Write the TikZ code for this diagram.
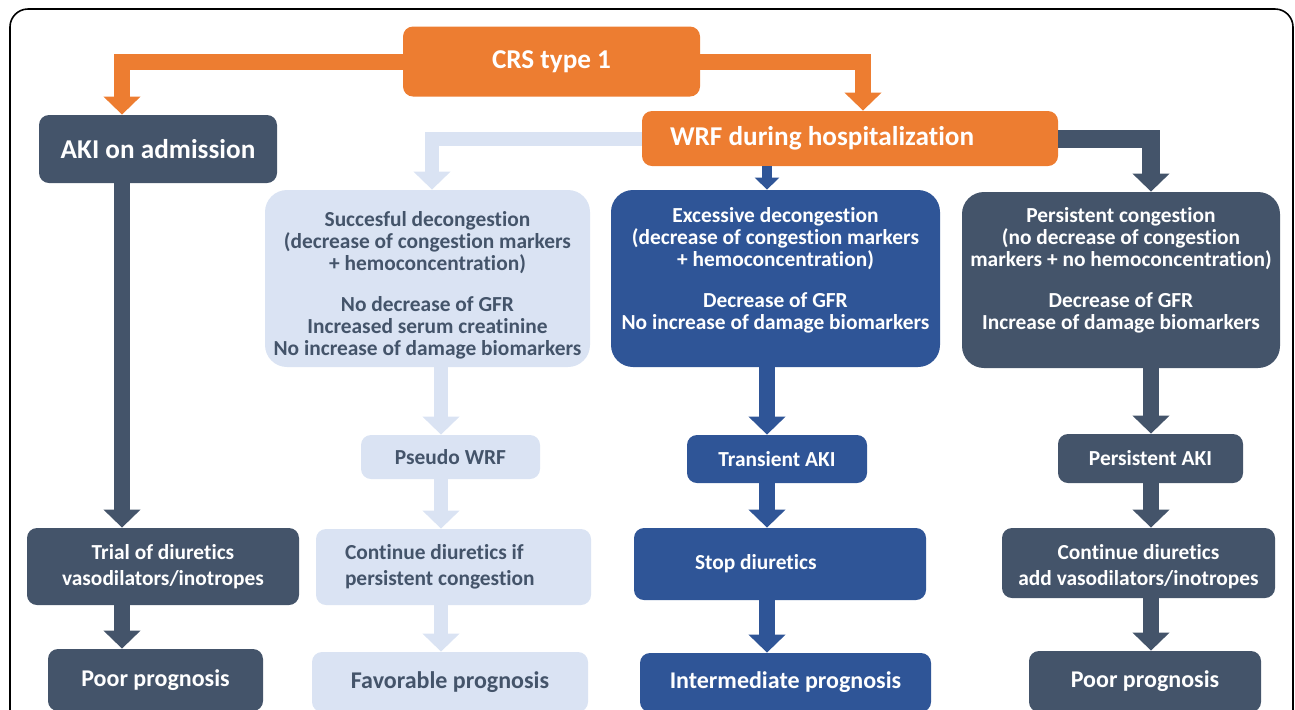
\documentclass[tikz,border=0pt]{standalone}
\usepackage{fontspec}
\setmainfont{Carlito}[Ligatures=NoCommon]
\usetikzlibrary{arrows.meta}
\definecolor{crsorange}{HTML}{ED7D31}
\definecolor{slate}{HTML}{44546A}
\definecolor{royal}{HTML}{2F5597}
\definecolor{pale}{HTML}{DAE3F3}
\tikzstyle{stage} = [rounded corners=5pt, inner sep=0pt, align=center, font=\bfseries\fontsize{10.7}{11}\selectfont]
\tikzstyle{big} = [rounded corners=11pt]
\tikzstyle{headline} = [font=\bfseries\fontsize{13.6}{16}\selectfont]
\tikzstyle{outcome} = [font=\bfseries\fontsize{12}{14}\selectfont]
\tikzstyle{twoline} = [font=\bfseries\fontsize{10.7}{13}\selectfont]
\tikzstyle{orangebox} = [stage, fill=crsorange, text=white]
\tikzstyle{slatebox} = [stage, fill=slate, text=white]
\tikzstyle{royalbox} = [stage, fill=royal, text=white]
\tikzstyle{palebox} = [stage, fill=pale, text=slate]
\tikzstyle{flow} = [line width=8pt, -{Triangle[length=9pt, width=18pt]}]

\begin{document}
\begin{tikzpicture}[x=0.5pt, y=-0.5pt]

\clip (0,0) rectangle (1295,709);
\draw[line width=0.8pt, rounded corners=9pt] (10,9) rectangle (1293,760);

% columns of the arrows
\coordinate (colA) at (122,0);
\coordinate (colB) at (863,0);
\coordinate (colC) at (432,0);
\coordinate (colD) at (767,0);
\coordinate (colE) at (1151,0);
\coordinate (colF) at (441,0);

\node[orangebox, headline, minimum width=148.5pt, minimum height=35pt] (crs) at (551.5,61.5) {CRS type 1};
\node[slatebox, headline, minimum width=119pt, minimum height=34pt] (aki) at (158,149) {AKI on admission};
\node[orangebox, headline, minimum width=208pt, minimum height=27.5pt, text width=180pt, inner xsep=14pt, align=flush left] (wrf) at (850,138.5) {WRF during hospitalization};

\node[palebox, big, minimum width=162.5pt, minimum height=88.5pt] (succ) at (427.5,278.5) {\rule{0pt}{14pt}Succesful decongestion\\(decrease of congestion markers\\+ hemoconcentration)\\[9.5pt]No decrease of GFR\\Increased serum creatinine\\No increase of damage biomarkers};
\node[royalbox, big, minimum width=164.5pt, minimum height=88.5pt] (exc) at (775.5,278.5) {Excessive decongestion\\(decrease of congestion markers\\+ hemoconcentration)\\[9.5pt]Decrease of GFR\\No increase of damage biomarkers\rule[-10.5pt]{0pt}{10.5pt}};
\node[slatebox, big, minimum width=159pt, minimum height=88pt] (pcong) at (1121,280) {Persistent congestion\\(no decrease of congestion\\markers + no hemoconcentration)\\[9.5pt]Decrease of GFR\\Increase of damage biomarkers\rule[-11.3pt]{0pt}{11.3pt}};

\node[palebox, minimum width=89.5pt, minimum height=22pt] (pseudo) at (450.5,457) {Pseudo WRF};
\node[royalbox, minimum width=90pt, minimum height=24pt] (trans) at (777,459) {Transient AKI};
\node[slatebox, minimum width=92.5pt, minimum height=24.5pt] (paki) at (1150.5,458.5) {Persistent AKI};

\node[slatebox, twoline, minimum width=136pt, minimum height=38.5pt] (trial) at (163,566.5) {Trial of diuretics\\vasodilators/inotropes};
\node[palebox, twoline, minimum width=137.5pt, minimum height=38pt, text width=108.5pt, inner xsep=14.5pt, align=flush left] (contif) at (453.5,567) {Continue diuretics if\\persistent congestion};
\node[royalbox, twoline, minimum width=146pt, minimum height=36pt, text width=85pt, inner xsep=30.5pt, align=flush left] (stop) at (780,564) {Stop diuretics};
\node[slatebox, twoline, minimum width=136.5pt, minimum height=35pt] (contadd) at (1138.5,563) {\rule{0pt}{11pt}Continue diuretics\\add vasodilators/inotropes};

\node[slatebox, outcome, minimum width=107.5pt, minimum height=31pt] (poorL) at (155.5,680) {Poor prognosis};
\node[palebox, outcome, minimum width=138pt, minimum height=30pt] (fav) at (450,682) {Favorable prognosis};
\node[royalbox, outcome, minimum width=145.5pt, minimum height=29.5pt] (inter) at (785.5,682.5) {Intermediate prognosis};
\node[slatebox, outcome, minimum width=116pt, minimum height=30.5pt] (poorR) at (1145,681.5) {Poor prognosis};

% branches
\draw[flow, crsorange] (crs.west) -| (aki.north -| colA);
\draw[flow, crsorange] (crs.east) -| (wrf.north -| colB);
\draw[flow, pale, line width=7pt] (wrf.west) -| (succ.north -| colC);
\draw[royal, line width=5pt, -{Triangle[length=6pt, width=12pt]}] (wrf.south -| colD) -- (exc.north -| colD);
\draw[flow, slate, line width=9pt] (wrf.east) -| (pcong.north -| colE);

\foreach \a/\b in {aki/trial, trial/poorL}
  \draw[flow, slate] (\a.south -| colA) -- (\b.north -| colA);
\foreach \a/\b in {succ/pseudo, pseudo/contif, contif/fav}
  \draw[flow, pale, line width=7pt] (\a.south -| colF) -- (\b.north -| colF);
\foreach \a/\b in {exc/trans, trans/stop, stop/inter}
  \draw[flow, royal] (\a.south -| colD) -- (\b.north -| colD);
\foreach \a/\b in {pcong/paki, paki/contadd, contadd/poorR}
  \draw[flow, slate] (\a.south -| colE) -- (\b.north -| colE);

\end{tikzpicture}
\end{document}
